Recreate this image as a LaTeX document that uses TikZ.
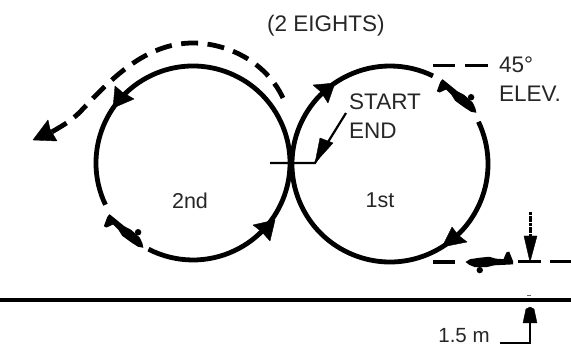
\documentclass[tikz,border=0pt]{standalone}
\usepackage{fontspec}
\setmainfont{Liberation Sans}
\tikzset{
  flight/.style={line width=4.8pt,black},
  wake/.style={line width=4.8pt,black,dash pattern=on 17pt off 9.5pt},
  guide/.style={line width=3pt,black},
  thin guide/.style={line width=2.2pt,black},
  tip/.style={fill=black,draw=black,line width=.4pt,line join=round},
  label/.style={inner sep=0pt,font=\fontsize{22.5}{26}\selectfont,text=black!85},
  small label/.style={inner sep=0pt,font=\fontsize{21.5}{25}\selectfont,text=black!85},
}
\newcommand{\planeglyph}[3]{%
  \begin{scope}[shift={(#1,#2)},rotate=#3,scale=.95]
    \fill[black,line join=round] (-50,0) -- (-45,-3) -- (-35,-4.5) -- (-25,-5.5) -- (-18,-3.5) -- (-10,-3)
      -- (-7,-10) -- (-4,-11) -- (-2,-6) -- (0,-1) -- (0,2.5) -- (-20,3.5) -- (-28,5.5) -- (-40,5.5) -- (-46,3) -- cycle;
    \fill[black] (-35,8.5) circle[radius=3.4];
  \end{scope}}
\begin{document}
\begin{tikzpicture}[x=1pt,y=1pt,yscale=-1]
\useasboundingbox (0,0) rectangle (571,347);
\fill[white] (0,0) rectangle (571,347);
% ground
\draw[line width=4.8pt] (0,300) -- (571,300);
% loops
\draw[flight] (193,163) ++(154.5:97) arc[start angle=154.5,end angle=477.3,radius=97];
\draw[flight] (390,164) ++(-25.5:98) arc[start angle=-25.5,end angle=-64+360,radius=98];
% wake
\draw[wake] (283,98) .. controls (265,60) and (225,43) .. (193,43)
  .. controls (145,43) and (110,80) .. (80,112)
  .. controls (70,122) and (60,127) .. (50,133);
\fill[tip] (33,140) -- (48,120) -- (50,129) -- (57,141) -- cycle;
% loop arrows
\fill[tip] (113,108) -- (115,86) -- (122,92) -- (134,99) -- cycle;
\fill[tip] (335,83) -- (313,85) -- (321,92) -- (328,103) -- cycle;
\fill[tip] (442,247) -- (452,227) -- (458,235) -- (467,242) -- cycle;
\fill[tip] (275,220) -- (253,225) -- (262,232) -- (270,241) -- cycle;
% start/end
\draw[thin guide] (270,163) -- (315,163) -- (346,113);
\fill[tip] (315,163) -- (320,138) -- (333,143) -- cycle;
% 45 deg guide
\draw[guide] (433,66) -- (455,66);
\draw[guide] (465,66) -- (488,66);
% planes
\planeglyph{441}{81}{222}
\planeglyph{108}{216}{222}
\planeglyph{513}{262}{0}
% height line
\draw[line width=4.6pt] (433,262) -- (455,262);
\draw[guide] (518,262) -- (541,262);
\draw[guide] (550,262) -- (571,262);
% height arrows
\draw[line width=3pt,dash pattern=on 3pt off .7pt] (530,212) -- (530,240);
\fill[tip] (530,262) -- (524,236) -- (537,236) -- cycle;
\draw[line width=2.6pt] (530,320) -- (530,343) -- (500,343);
\fill[tip] (530,307) -- (534,309) -- (537,323) -- (523,323) -- (526,309) -- cycle;
\draw[line width=.8pt,black!60] (527,295) -- (531,295);
% text
\node[label] (title) at (326,26) {(2 EIGHTS)};
\node[label,anchor=west] (start) at (349,102) {START};
\node[label,anchor=west] (finish) at (349,131) {END};
\node[label,anchor=west] (deg) at (499,65) {45°};
\node[label,anchor=west] (elev) at (499,94) {ELEV.};
\node[small label] (second) at (190,201) {2nd};
\node[small label] (first) at (380,200) {1st};
\node[small label,font=\fontsize{20.5}{24}\selectfont] (height) at (464,336) {1.5 m};
\end{tikzpicture}
\end{document}
